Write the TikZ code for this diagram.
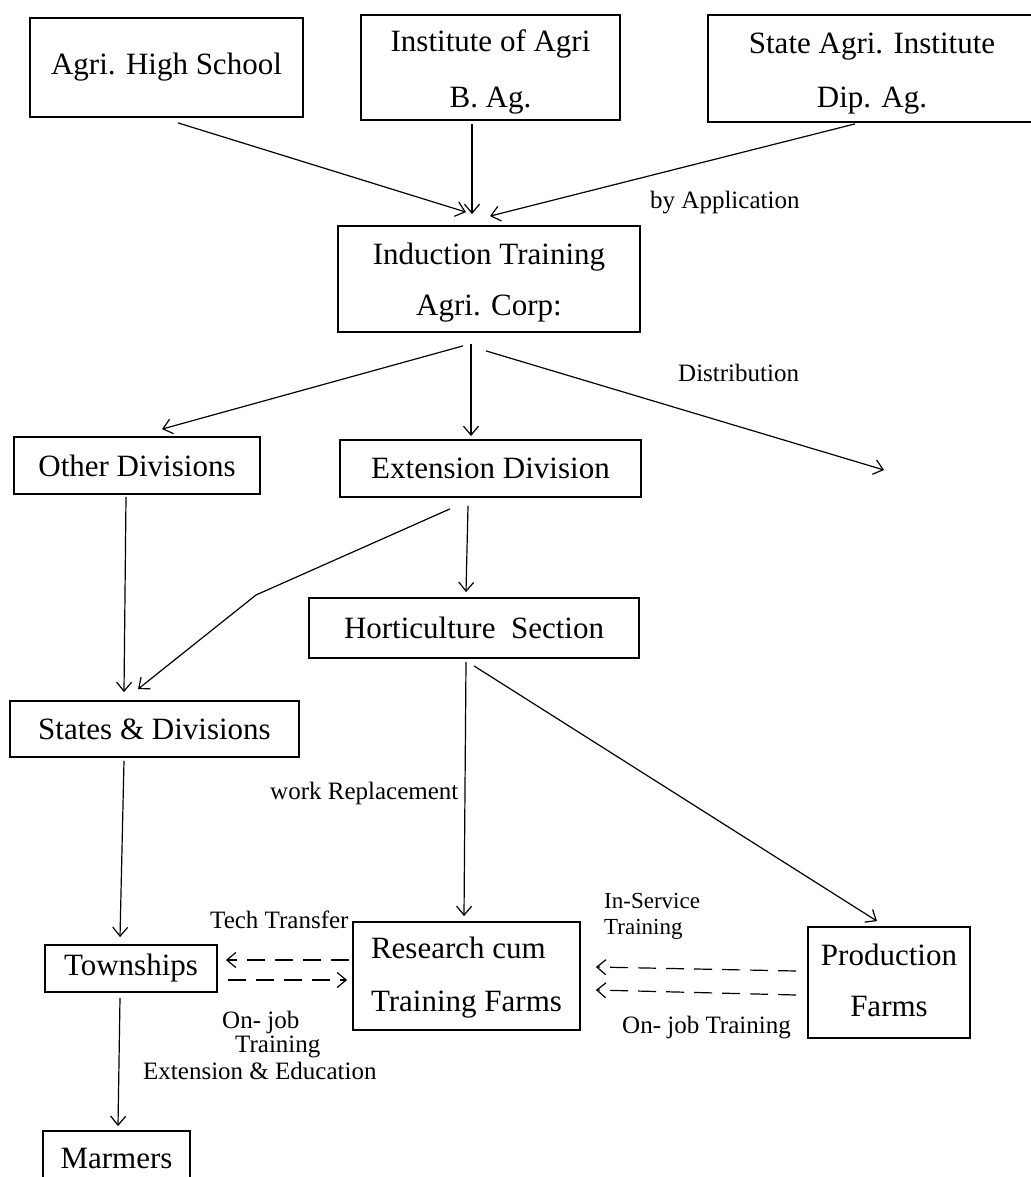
\documentclass[tikz,border=0pt]{standalone}
\usepackage{fontspec}
\setmainfont{Liberation Serif}
\usetikzlibrary{arrows.meta}
% #1 extra gap between lines, #2 column spec, #3/#4 lines, #5 extra room on top (moves text down by half)
\newcommand{\twolines}[5]{\raisebox{0pt}[\dimexpr\height+#5\relax][\depth]{\begin{tabular}{@{}#2@{}}#3\\[#1]#4\end{tabular}}}
\begin{document}
\begin{tikzpicture}[x=1pt,y=-1pt,
  box/.style={draw, line width=1.8pt, inner sep=0pt, font=\fontsize{31}{37}\selectfont, align=center},
  lab/.style={font=\fontsize{25}{27}\selectfont, anchor=west, inner sep=0pt},
  arr/.style={line width=1.2pt, -{Straight Barb[length=9pt,width=15pt,line width=1.2pt]}},
  darr/.style={arr, dash pattern=on 18pt off 10pt}]
\useasboundingbox (0,0) rectangle (1030,1177);
\fill[white] (0,0) rectangle (1030,1177);
% boxes
\node[box, minimum width=273pt, minimum height=99pt] (hs) at (166.5,67.5) {Agri. High School};
\node[box, minimum width=259pt, minimum height=105pt] (inst) at (490.5,67.5) {\twolines{19pt}{c}{Institute of Agri}{B. Ag.}{10pt}};
\node[box, minimum width=328pt, minimum height=107pt] (state) at (872,68.5) {\twolines{17pt}{c}{State Agri. Institute}{Dip. Ag.}{10pt}};
\node[box, minimum width=302pt, minimum height=106pt] (ind) at (489,279) {\twolines{14pt}{c}{Induction Training}{Agri. Corp:}{8pt}};
\node[box, minimum width=246pt, minimum height=57pt] (od) at (137,465.5) {Other Divisions};
\node[box, minimum width=301pt, minimum height=57pt] (ext) at (490.5,468.5) {Extension Division};
\node[box, minimum width=330pt, minimum height=60pt] (hort) at (474,628) {Horticulture~~Section};
\node[box, minimum width=289pt, minimum height=56pt] (sd) at (154.5,729) {States \& Divisions};
\node[box, minimum width=172pt, minimum height=47pt] (tw) at (131,968.5) {Townships};
\node[box, minimum width=227pt, minimum height=108pt] (rf) at (466.5,976) {\twolines{16pt}{l}{Research cum}{Training Farms}{4pt}};
\node[box, minimum width=162pt, minimum height=111pt] (pf) at (889,982.5) {\twolines{14pt}{c}{Production}{Farms}{3pt}};
\node[box, minimum width=147pt, minimum height=54pt] (mm) at (116.5,1158) {Marmers};
% free coordinates
\coordinate (dist) at (884,470);
\coordinate (bend) at (256,595);
% arrows
\draw[arr] ([xshift=11.5pt,yshift=-5pt]hs.south) -- ([xshift=-23pt,yshift=13pt]ind.north);
\draw[arr] ([xshift=-18.5pt,yshift=-3pt]inst.south) -- ([xshift=-17pt,yshift=11pt]ind.north);
\draw[arr] ([xshift=-17pt,yshift=-1pt]state.south) -- ([xshift=1pt,yshift=9pt]ind.north);
\draw[arr] ([xshift=-26pt,yshift=-13pt]ind.south) -- ([xshift=25pt,yshift=7pt]od.north);
\draw[arr] ([xshift=-18pt,yshift=-11pt]ind.south) -- ([xshift=-19.5pt,yshift=3pt]ext.north);
\draw[arr] ([xshift=-3pt,yshift=-18pt]ind.south) -- (dist);
\draw[arr] ([xshift=-40.5pt,yshift=-11pt]ext.south) -- (bend) -- ([xshift=-16.5pt,yshift=11pt]sd.north);
\draw[arr] ([xshift=-22.5pt,yshift=-8pt]ext.south) -- ([xshift=-8pt,yshift=5pt]hort.north);
\draw[arr] ([xshift=-11pt,yshift=-2pt]od.south) -- ([xshift=-30.5pt,yshift=8pt]sd.north);
\draw[arr] ([xshift=-8pt,yshift=-3pt]hort.south) -- ([xshift=-2.5pt,yshift=5pt]rf.north);
\draw[arr] ([xshift=0pt,yshift=-7pt]hort.south) -- ([xshift=-12pt,yshift=5pt]pf.north);
\draw[arr] ([xshift=-30.5pt,yshift=-3pt]sd.south) -- ([xshift=-11pt,yshift=7pt]tw.north);
\draw[arr] ([xshift=-11pt,yshift=-5pt]tw.south) -- ([xshift=1.5pt,yshift=4pt]mm.north);
% dashed arrows
\draw[darr] ([xshift=-3pt,yshift=16pt]rf.west) -- ([xshift=8pt,yshift=8.5pt]tw.east);
\draw[darr] ([xshift=10pt,yshift=-11.5pt]tw.east) -- ([xshift=-5pt,yshift=-4pt]rf.west);
\draw[darr] ([xshift=-11pt,yshift=11.5pt]pf.west) -- ([xshift=15pt,yshift=9pt]rf.east);
\draw[darr] ([xshift=-11pt,yshift=-12.5pt]pf.west) -- ([xshift=15pt,yshift=-14pt]rf.east);
% labels
\node[lab] (lapp) at (650,203) {by Application};
\node[lab] (ldist) at (678,373) {Distribution};
\node[lab] (lwork) at (270,793) {work Replacement};
\node[lab] (ltech) at (210,920) {Tech Transfer};
\node[lab, font=\fontsize{23}{25}\selectfont] (lins1) at (604,901) {In-Service};
\node[lab, font=\fontsize{23}{25}\selectfont] (lins2) at (604,929) {Training};
\node[lab] (lojr) at (622,1028) {On- job Training};
\node[lab] (loj1) at (222,1022) {On- job};
\node[lab] (loj2) at (235,1047) {Training};
\node[lab] (lext) at (143,1071) {Extension \& Education};
\end{tikzpicture}
\end{document}
